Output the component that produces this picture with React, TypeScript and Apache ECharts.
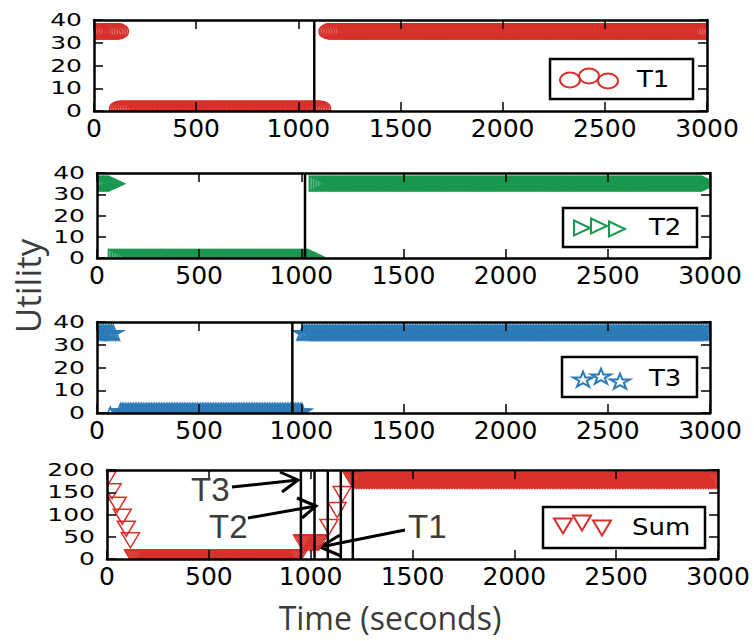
import React, { useEffect, useRef } from "react";
import * as echarts from "echarts";

// ---- data ----
const X_TICK_INTERVAL = 500;
const X_MAX = 3000;
const T_Y_MAX = 40;
const T_Y_INTERVAL = 10;
const SUM_Y_MAX = 200;
const SUM_Y_INTERVAL = 50;
const T_Y_TICKS = [0, 10, 20, 30, 40];
const SUM_Y_TICKS = [0, 50, 100, 150, 200];

// step segments: [start time, end time, utility]
const T1_SEGMENTS = [
  [0, 120, 35],
  [125, 1115, 1],
  [1150, 3000, 35],
];
const T2_SEGMENTS = [
  [0, 100, 35],
  [95, 1078, 0.5],
  [1078, 3000, 35],
];
const T3_SEGMENTS = [
  [0, 80, 35],
  [115, 1005, 0.5],
  [1008, 3000, 35],
];
const T3_EXTRA = [[65, -1]];
const SUM_SEGMENTS = [
  [130, 940, 3.5],
  [960, 1045, 37],
  [1210, 3000, 176],
];
const SUM_DROP = [
  [0, 180],
  [25, 152],
  [50, 122],
  [75, 95],
  [95, 68],
  [115, 42],
];
const SUM_RISE = [
  [1090, 72],
  [1130, 110],
  [1155, 146],
  [1205, 178],
];
const T1_SWITCH = [1078];
const T2_SWITCH = [1018];
const T3_SWITCH = [956];
const SUM_SWITCHES = [952, 1019, 1084, 1148, 1207];
const SAMPLE_STEP = 8;

const RED = "#d7302a";
const GREEN = "#1a9850";
const BLUE = "#2c7bb6";

// ---- layout ----
const GRIDS = [
  { left: 94, top: 20, width: 613, height: 91 },
  { left: 97, top: 173, width: 613, height: 85 },
  { left: 97, top: 322, width: 613, height: 91 },
  { left: 107, top: 470, width: 611, height: 89 },
];

function expand(segments: number[][]): number[][] {
  const out: number[][] = [];
  for (const [a, b, v] of segments) {
    for (let t = a; t <= b; t += SAMPLE_STEP) out.push([t, v]);
  }
  return out;
}

function starPoints(x: number, y: number, R: number, sx: number) {
  const r = R * 0.382;
  const pts: number[][] = [];
  for (let k = 0; k < 10; k++) {
    const ang = -Math.PI / 2 + (k * Math.PI) / 5;
    const rad = k % 2 === 0 ? R : r;
    pts.push([x + sx * rad * Math.cos(ang), y + rad * Math.sin(ang)]);
  }
  return pts;
}

function markerShape(kind: string, x: number, y: number, color: string, lw: number): any {
  const style = { fill: "none", stroke: color, lineWidth: lw };
  if (kind === "circle") {
    return { type: "ellipse", shape: { cx: x, cy: y, rx: 10, ry: 7.5 }, style };
  }
  if (kind === "triDown") {
    return {
      type: "polygon",
      shape: { points: [[x - 9, y - 7.5], [x + 9, y - 7.5], [x, y + 7.5]] },
      style,
    };
  }
  if (kind === "triRight") {
    return {
      type: "polygon",
      shape: { points: [[x - 8, y - 7.5], [x + 8, y], [x - 8, y + 7.5]] },
      style,
    };
  }
  return { type: "polygon", shape: { points: starPoints(x, y, 8.3, 1.25) }, style };
}

function markerSeries(name: string, data: number[][], gi: number, color: string, kind: string) {
  return {
    type: "custom",
    name,
    xAxisIndex: gi * 2,
    yAxisIndex: gi * 2,
    data,
    clip: true,
    z: 2,
    encode: { x: 0, y: 1 },
    renderItem: (_params: any, api: any) => {
      const p = api.coord([api.value(0), api.value(1)]);
      return markerShape(kind, p[0], p[1], color, 1.5);
    },
  };
}

function switchSeries(xs: number[], gi: number, yMax: number) {
  return xs.map((x) => ({
    type: "line",
    xAxisIndex: gi * 2,
    yAxisIndex: gi * 2,
    data: [
      [x, 0],
      [x, yMax],
    ],
    symbol: "none",
    silent: true,
    z: 3,
    lineStyle: { color: "#000", width: 2.5 },
  }));
}

const TICK_FONT = "DejaVu Sans";
const NOTE_FONT = "Liberation Sans";
const TITLE_FONT = "Open Sans";

function buildAxes() {
  const xAxis: any[] = [];
  const yAxis: any[] = [];
  GRIDS.forEach((_g, i) => {
    const yMax = i === 3 ? SUM_Y_MAX : T_Y_MAX;
    const yInt = i === 3 ? SUM_Y_INTERVAL : T_Y_INTERVAL;
    ["bottom", "top"].forEach((pos) => {
      xAxis.push({
        gridIndex: i,
        type: "value",
        position: pos,
        min: 0,
        max: X_MAX,
        interval: X_TICK_INTERVAL,
        z: 10,
        axisLine: { onZero: false, lineStyle: { color: "#000", width: 2.5 } },
        axisTick: { inside: true, length: 9, lineStyle: { color: "#000", width: 1.5 } },
        axisLabel: {
          show: pos === "bottom",
          color: "#000",
          fontFamily: TICK_FONT,
          fontSize: 25,
          margin: 5,
          showMinLabel: true,
          showMaxLabel: true,
          formatter: (v: number) => String(v),
        },
        splitLine: { show: false },
      });
    });
    ["left", "right"].forEach((pos) => {
      yAxis.push({
        gridIndex: i,
        type: "value",
        position: pos,
        min: 0,
        max: yMax,
        interval: yInt,
        z: 10,
        axisLine: { onZero: false, lineStyle: { color: "#000", width: 2.5 } },
        axisTick: { inside: true, length: 9, lineStyle: { color: "#000", width: 1.5 } },
        axisLabel: { show: false },
        splitLine: { show: false },
      });
    });
  });
  return { xAxis, yAxis };
}

function legendGraphic(
  box: number[],
  marks: number[][],
  kind: string,
  color: string,
  label: string,
  textX: number,
  textY: number
) {
  const children: any[] = [
    {
      type: "rect",
      shape: { x: box[0], y: box[1], width: box[2], height: box[3] },
      style: { fill: "#fff", stroke: "#000", lineWidth: 2.5 },
    },
  ];
  marks.forEach(([x, y]) => children.push(markerShape(kind, x, y, color, 2)));
  children.push({
    type: "text",
    x: textX,
    y: textY,
    scaleY: 0.9,
    style: {
      text: label,
      fill: "#000",
      font: `26px '${TICK_FONT}'`,
      textAlign: "left",
      textVerticalAlign: "middle",
      verticalAlign: "middle",
    },
  });
  return { type: "group", z: 20, children };
}

function arrow(from: number[], tip: number[], h1: number[], h2: number[]) {
  const style = { stroke: "#000", lineWidth: 3, fill: "none" };
  return {
    type: "group",
    z: 30,
    children: [
      { type: "line", shape: { x1: from[0], y1: from[1], x2: tip[0], y2: tip[1] }, style },
      { type: "polyline", shape: { points: [h1, tip, h2] }, style },
    ],
  };
}

function noteText(
  text: string,
  x: number,
  y: number,
  size: number,
  family: string,
  rotation = 0,
  align = "left"
) {
  return {
    type: "text",
    x,
    y,
    rotation,
    z: 30,
    style: {
      text,
      fill: "#3c3c3c",
      font: `${size}px '${family}'`,
      textAlign: align,
      verticalAlign: "middle",
      textVerticalAlign: "middle",
    },
  };
}

function staticGraphics(): any[] {
  return [
    legendGraphic([550, 59, 143, 40], [[570, 80], [589, 76], [608, 81]], "circle", RED, "T1", 637, 79),
    legendGraphic([563, 208, 134, 39], [[582, 228], [599, 226], [617, 229]], "triRight", GREEN, "T2", 649, 227),
    legendGraphic([562, 357, 135, 40], [[583, 380], [601, 377], [620, 382]], "star", BLUE, "T3", 649, 378),
    legendGraphic([543, 507, 162, 41], [[563, 526], [582, 523], [602, 528]], "triDown", RED, "Sum", 632, 527),
    noteText("T3", 191, 489, 33, NOTE_FONT),
    noteText("T2", 209, 526, 33, NOTE_FONT),
    noteText("T1", 408, 526, 33, NOTE_FONT),
    arrow([232, 487], [298, 480], [280, 472], [282, 492]),
    arrow([248, 518], [316, 506], [297, 498], [302, 518]),
    arrow([405, 530], [320, 547], [340, 535], [341, 556]),
    noteText("Utility", 27, 286, 35, TITLE_FONT, Math.PI / 2, "center"),
    noteText("Time (seconds)", 390, 617, 32, TITLE_FONT, 0, "center"),
  ];
}

function buildOption() {
  const { xAxis, yAxis } = buildAxes();
  const series: any[] = [
    markerSeries("T1", expand(T1_SEGMENTS), 0, RED, "circle"),
    markerSeries("T2", expand(T2_SEGMENTS), 1, GREEN, "triRight"),
    markerSeries("T3", T3_EXTRA.concat(expand(T3_SEGMENTS)), 2, BLUE, "star"),
    markerSeries("Sum", SUM_DROP.concat(expand(SUM_SEGMENTS), SUM_RISE), 3, RED, "triDown"),
    ...switchSeries(T1_SWITCH, 0, T_Y_MAX),
    ...switchSeries(T2_SWITCH, 1, T_Y_MAX),
    ...switchSeries(T3_SWITCH, 2, T_Y_MAX),
    ...switchSeries(SUM_SWITCHES, 3, SUM_Y_MAX),
  ];
  return {
    animation: false,
    backgroundColor: "#fff",
    grid: GRIDS.map((g) => ({ ...g, containLabel: false })),
    xAxis,
    yAxis,
    series,
  };
}

// y tick labels: wide, flattened glyphs as in the reference, placed through the axis scale
function yTickLabels(chart: any): any[] {
  const out: any[] = [];
  GRIDS.forEach((_g, i) => {
    const ticks = i === 3 ? SUM_Y_TICKS : T_Y_TICKS;
    const axisX = chart.convertToPixel({ xAxisIndex: i * 2 }, 0);
    ticks.forEach((v) => {
      const y = chart.convertToPixel({ yAxisIndex: i * 2 }, v);
      out.push({
        type: "text",
        x: axisX - 12,
        y,
        scaleY: 0.7,
        z: 15,
        style: {
          text: String(v),
          fill: "#000",
          font: `25px '${TICK_FONT}'`,
          textAlign: "right",
          verticalAlign: "middle",
          textVerticalAlign: "middle",
        },
      });
    });
  });
  return out;
}

export default function App() {
  const ref = useRef<HTMLDivElement>(null);
  useEffect(() => {
    const chart = echarts.init(ref.current!, null, { renderer: "svg" });
    chart.setOption(buildOption() as any);
    chart.setOption({ graphic: [...staticGraphics(), ...yTickLabels(chart)] } as any);
    return () => chart.dispose();
  }, []);
  return (
    <div
      ref={ref}
      style={{ position: "absolute", left: 0, top: 0, width: 754, height: 641 }}
    />
  );
}
